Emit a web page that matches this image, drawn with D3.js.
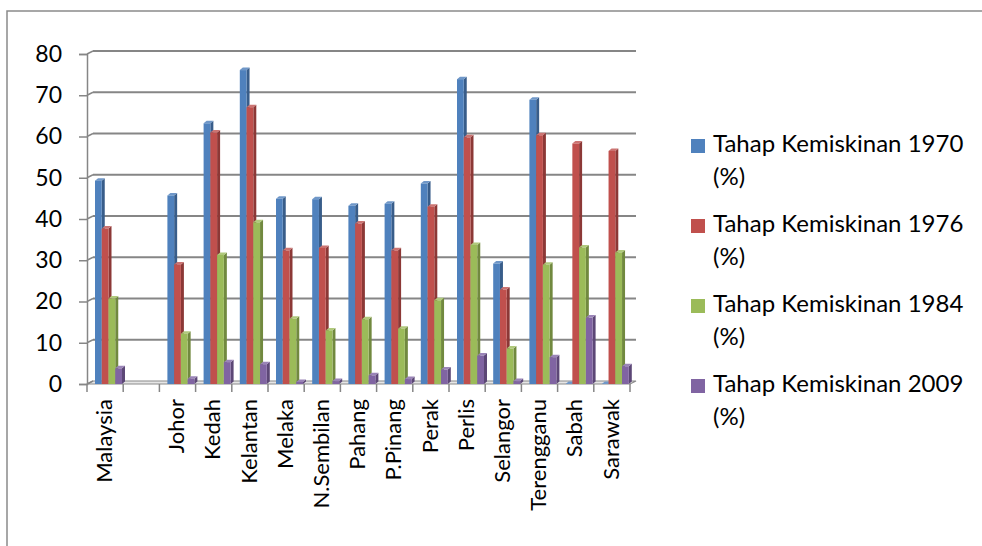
<!DOCTYPE html>
<html>
<head>
<meta charset="utf-8">
<script src="https://cdn.jsdelivr.net/npm/d3@7"></script>
<style>
  html, body { margin: 0; padding: 0; overflow: hidden; background: #fff; }
  svg { display: block; }
  text { font-family: Lato, "Open Sans", sans-serif; fill: #000; }
</style>
</head>
<body>
<svg id="chart" width="982" height="546"></svg>
<script>
const categories = ["Malaysia", "", "Johor", "Kedah", "Kelantan", "Melaka", "N.Sembilan", "Pahang",
  "P.Pinang", "Perak", "Perlis", "Selangor", "Terengganu", "Sabah", "Sarawak"];
const seriesNames = ["Tahap Kemiskinan 1970", "Tahap Kemiskinan 1976", "Tahap Kemiskinan 1984", "Tahap Kemiskinan 2009"];
const v1970 = [49.3, null, 45.7, 63.2, 76.1, 44.9, 44.8, 43.2, 43.7, 48.6, 73.9, 29.2, 68.9, 0, 0];
const v1976 = [37.7, null, 29.0, 61.0, 67.1, 32.4, 33.0, 38.9, 32.4, 43.0, 59.8, 22.9, 60.3, 58.3, 56.5];
const v1984 = [20.7, null, 12.2, 31.3, 39.2, 15.8, 13.0, 15.7, 13.4, 20.3, 33.7, 8.6, 28.9, 33.1, 31.9];
const v2009 = [3.8, null, 1.3, 5.3, 4.8, 0.5, 0.7, 2.1, 1.2, 3.5, 6.9, 0.7, 6.5, 16.1, 4.3];
const yTicks = [0, 10, 20, 30, 40, 50, 60, 70, 80];

const series = [v1970, v1976, v1984, v2009];
const colors = ["#4F81BD", "#C0504D", "#9BBB59", "#8064A2"];
const sideColors = ["#385D8A", "#8C3836", "#71893F", "#5C4776"];
const topColors = ["#6F97C8", "#CC7472", "#B0C97C", "#9A84B7"];

const svg = d3.select("#chart");

// outer frame: only top and left edges fall inside the picture
svg.append("path").attr("d", "M7,546 L7,11 L982,11")
  .attr("fill", "none").attr("stroke", "#8a8a8a").attr("stroke-width", 1.5);

// depth of the 3D box
const dx = 6, dy = -3;

const x = d3.scaleBand().domain(d3.range(categories.length)).range([87, 630]);
const y = d3.scaleLinear().domain([0, 80]).range([384, 54]);
const x1 = d3.scaleBand().domain(d3.range(series.length)).range([8, 35]);

// floor
svg.append("path")
  .attr("d", `M${x.range()[0]},${y(0)} L${x.range()[1]},${y(0)} L${x.range()[1] + dx},${y(0) + dy} L${x.range()[0] + dx},${y(0) + dy} Z`)
  .attr("fill", "#e6e6e6").attr("stroke", "#8a8a8a").attr("stroke-width", 1.2);

// back wall gridlines
const grid = svg.append("g");
grid.selectAll("line.grid").data(yTicks.slice(1)).enter().append("line")
  .attr("class", "grid")
  .attr("x1", x.range()[0] + dx).attr("x2", x.range()[1] + dx)
  .attr("y1", (d) => y(d) + dy).attr("y2", (d) => y(d) + dy)
  .attr("stroke", "#868686").attr("stroke-width", 2.2);
// side wall slants
grid.selectAll("line.slant").data(yTicks).enter().append("line")
  .attr("class", "slant")
  .attr("x1", x.range()[0]).attr("x2", x.range()[0] + dx)
  .attr("y1", (d) => y(d)).attr("y2", (d) => y(d) + dy)
  .attr("stroke", "#868686").attr("stroke-width", 1.5);

// left axis
const yAxis = d3.axisLeft(y).tickValues(yTicks).tickSize(8).tickPadding(17);
const yAxisG = svg.append("g").attr("transform", `translate(${x.range()[0]},0)`).call(yAxis);
yAxisG.select(".domain").attr("stroke", "#868686").attr("stroke-width", 1.5);
yAxisG.selectAll(".tick line").attr("stroke", "#868686").attr("stroke-width", 1.5);
yAxisG.selectAll(".tick text").attr("font-size", 23).attr("font-family", "Lato").attr("fill", "#000");

// category ticks
const catTicks = x.domain().map((i) => x(i)).concat([x.range()[1]]);
svg.append("g").selectAll("line").data(catTicks).enter().append("line")
  .attr("x1", (d) => d).attr("x2", (d) => d)
  .attr("y1", y(0)).attr("y2", y(0) + 8)
  .attr("stroke", "#868686").attr("stroke-width", 1.5);

// bars
const groups = svg.append("g").selectAll("g").data(categories).enter().append("g")
  .attr("transform", (d, i) => `translate(${x(i)},0)`);

groups.each(function (cat, i) {
  const g = d3.select(this);
  series.forEach((vals, s) => {
    const v = vals[i];
    if (v === null) return;
    const bx = x1(s), bw = x1.bandwidth();
    const top = y(v), bottom = y(0);
    const d3x = 3, d3y = -2.5;
    // side face
    g.append("path")
      .attr("d", `M${bx + bw},${bottom} L${bx + bw + d3x},${bottom + d3y} L${bx + bw + d3x},${top + d3y} L${bx + bw},${top} Z`)
      .attr("fill", sideColors[s]);
    // top face
    g.append("path")
      .attr("d", `M${bx},${top} L${bx + d3x},${top + d3y} L${bx + bw + d3x},${top + d3y} L${bx + bw},${top} Z`)
      .attr("fill", topColors[s]);
    // front face
    g.append("rect")
      .attr("x", bx).attr("y", top).attr("width", bw).attr("height", bottom - top)
      .attr("fill", colors[s]);
  });
});

// category labels
svg.append("g").selectAll("text").data(categories).enter().append("text")
  .attr("transform", (d, i) => `translate(${x(i) + x.bandwidth() / 2},399) rotate(-90)`)
  .attr("text-anchor", "end")
  .attr("dy", "0.3em")
  .attr("font-size", 22)
  .text((d) => d);

// legend
const legend = svg.append("g").attr("transform", "translate(691,0)");
const entries = legend.selectAll("g").data(seriesNames).enter().append("g")
  .attr("transform", (d, i) => `translate(0,${152 + i * 80})`);
entries.append("rect").attr("x", 0).attr("y", -13).attr("width", 14).attr("height", 14)
  .attr("fill", (d, i) => colors[i]);
entries.append("text").attr("x", 22).attr("y", 0).attr("font-size", 24).text((d) => d);
entries.append("text").attr("x", 22).attr("y", 33).attr("font-size", 24).text("(%)");
</script>
</body>
</html>
